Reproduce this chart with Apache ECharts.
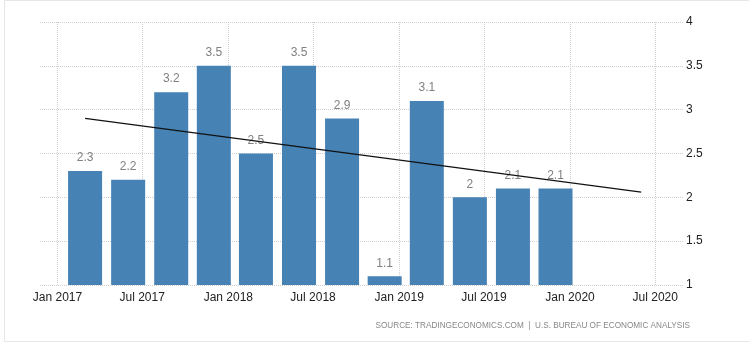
<!DOCTYPE html>
<html lang="en">
<head>
    <meta charset="UTF-8">
    <title>GDP growth</title>
    <script src="https://cdn.jsdelivr.net/npm/echarts@6/dist/echarts.min.js"></script>
    <style>
        html, body { margin: 0; padding: 0; background: #fff; }
        #main { width: 749px; height: 353px; }
    </style>
</head>
<body>
    <div id="main"></div>
    <script type="text/javascript">
        // quarterly values, one bar per quarter
        var quarters = ['2017-03-01', '2017-06-01', '2017-09-01', '2017-12-01',
                        '2018-03-01', '2018-06-01', '2018-09-01', '2018-12-01',
                        '2019-03-01', '2019-06-01', '2019-09-01', '2019-12-01'];
        var growth = [2.3, 2.2, 3.2, 3.5, 2.5, 3.5, 2.9, 1.1, 3.1, 2, 2.1, 2.1];
        // trend line end points
        var trendDates = ['2017-03-01', '2020-06-01'];
        var trendValues = [2.9, 2.06];
        var monthNames = ['Jan', 'Feb', 'Mar', 'Apr', 'May', 'Jun', 'Jul', 'Aug', 'Sep', 'Oct', 'Nov', 'Dec'];

        var myChart = echarts.init(document.getElementById('main'));
        var DAY = 24 * 3600 * 1000;

        var option = {
            backgroundColor: '#fff',
            animation: false,
            textStyle: { fontFamily: 'Liberation Sans, Arial, sans-serif' },
            grid: { left: 40, right: 66, top: 22, bottom: 68 },
            xAxis: {
                type: 'time',
                // echarts widens a time axis by half a bar on each side,
                // so these are set half a bar inside the wanted edges
                min: '2016-12-31',
                max: '2020-07-24',
                minInterval: 180 * DAY,
                maxInterval: 186 * DAY,
                axisLine: { show: false },
                axisTick: { show: false },
                axisLabel: {
                    color: '#222',
                    fontSize: 12,
                    margin: 7,
                    hideOverlap: false,
                    formatter: function (v) {
                        var d = new Date(v);
                        return monthNames[d.getMonth()] + ' ' + d.getFullYear();
                    }
                },
                splitLine: {
                    show: true,
                    showMinLine: false,
                    showMaxLine: false,
                    lineStyle: { color: '#cfcfcf', type: 'dotted', width: 1 }
                }
            },
            yAxis: {
                type: 'value',
                position: 'right',
                min: 1,
                max: 4,
                interval: 0.5,
                axisLine: { show: false },
                axisTick: { show: false },
                axisLabel: { color: '#222', fontSize: 12, margin: 3 },
                splitLine: {
                    lineStyle: { color: '#cfcfcf', type: 'dotted', width: 1 }
                }
            },
            series: [
                {
                    type: 'bar',
                    barWidth: 34,
                    itemStyle: { color: '#4682b4' },
                    label: {
                        show: true,
                        position: 'top',
                        color: '#808080',
                        fontSize: 12,
                        distance: 7
                    },
                    data: quarters.map(function (q, i) { return [q, growth[i]]; })
                },
                {
                    type: 'line',
                    symbol: 'none',
                    silent: true,
                    z: 5,
                    lineStyle: { color: '#111', width: 1.2 },
                    data: trendDates.map(function (d, i) { return [d, trendValues[i]]; })
                }
            ],
            graphic: [
                {
                    type: 'rect',
                    shape: { x: 4.5, y: 0.5, width: 760, height: 341 },
                    style: { fill: 'none', stroke: '#e6e6e6', lineWidth: 1 },
                    silent: true
                },
                {
                    type: 'text',
                    right: 59,
                    top: 322,
                    style: {
                        text: 'SOURCE: TRADINGECONOMICS.COM  |  U.S. BUREAU OF ECONOMIC ANALYSIS',
                        fill: '#888',
                        fontSize: 8.2,
                        fontFamily: 'Liberation Sans, Arial, sans-serif'
                    }
                }
            ]
        };

        myChart.setOption(option);
    </script>
</body>
</html>
